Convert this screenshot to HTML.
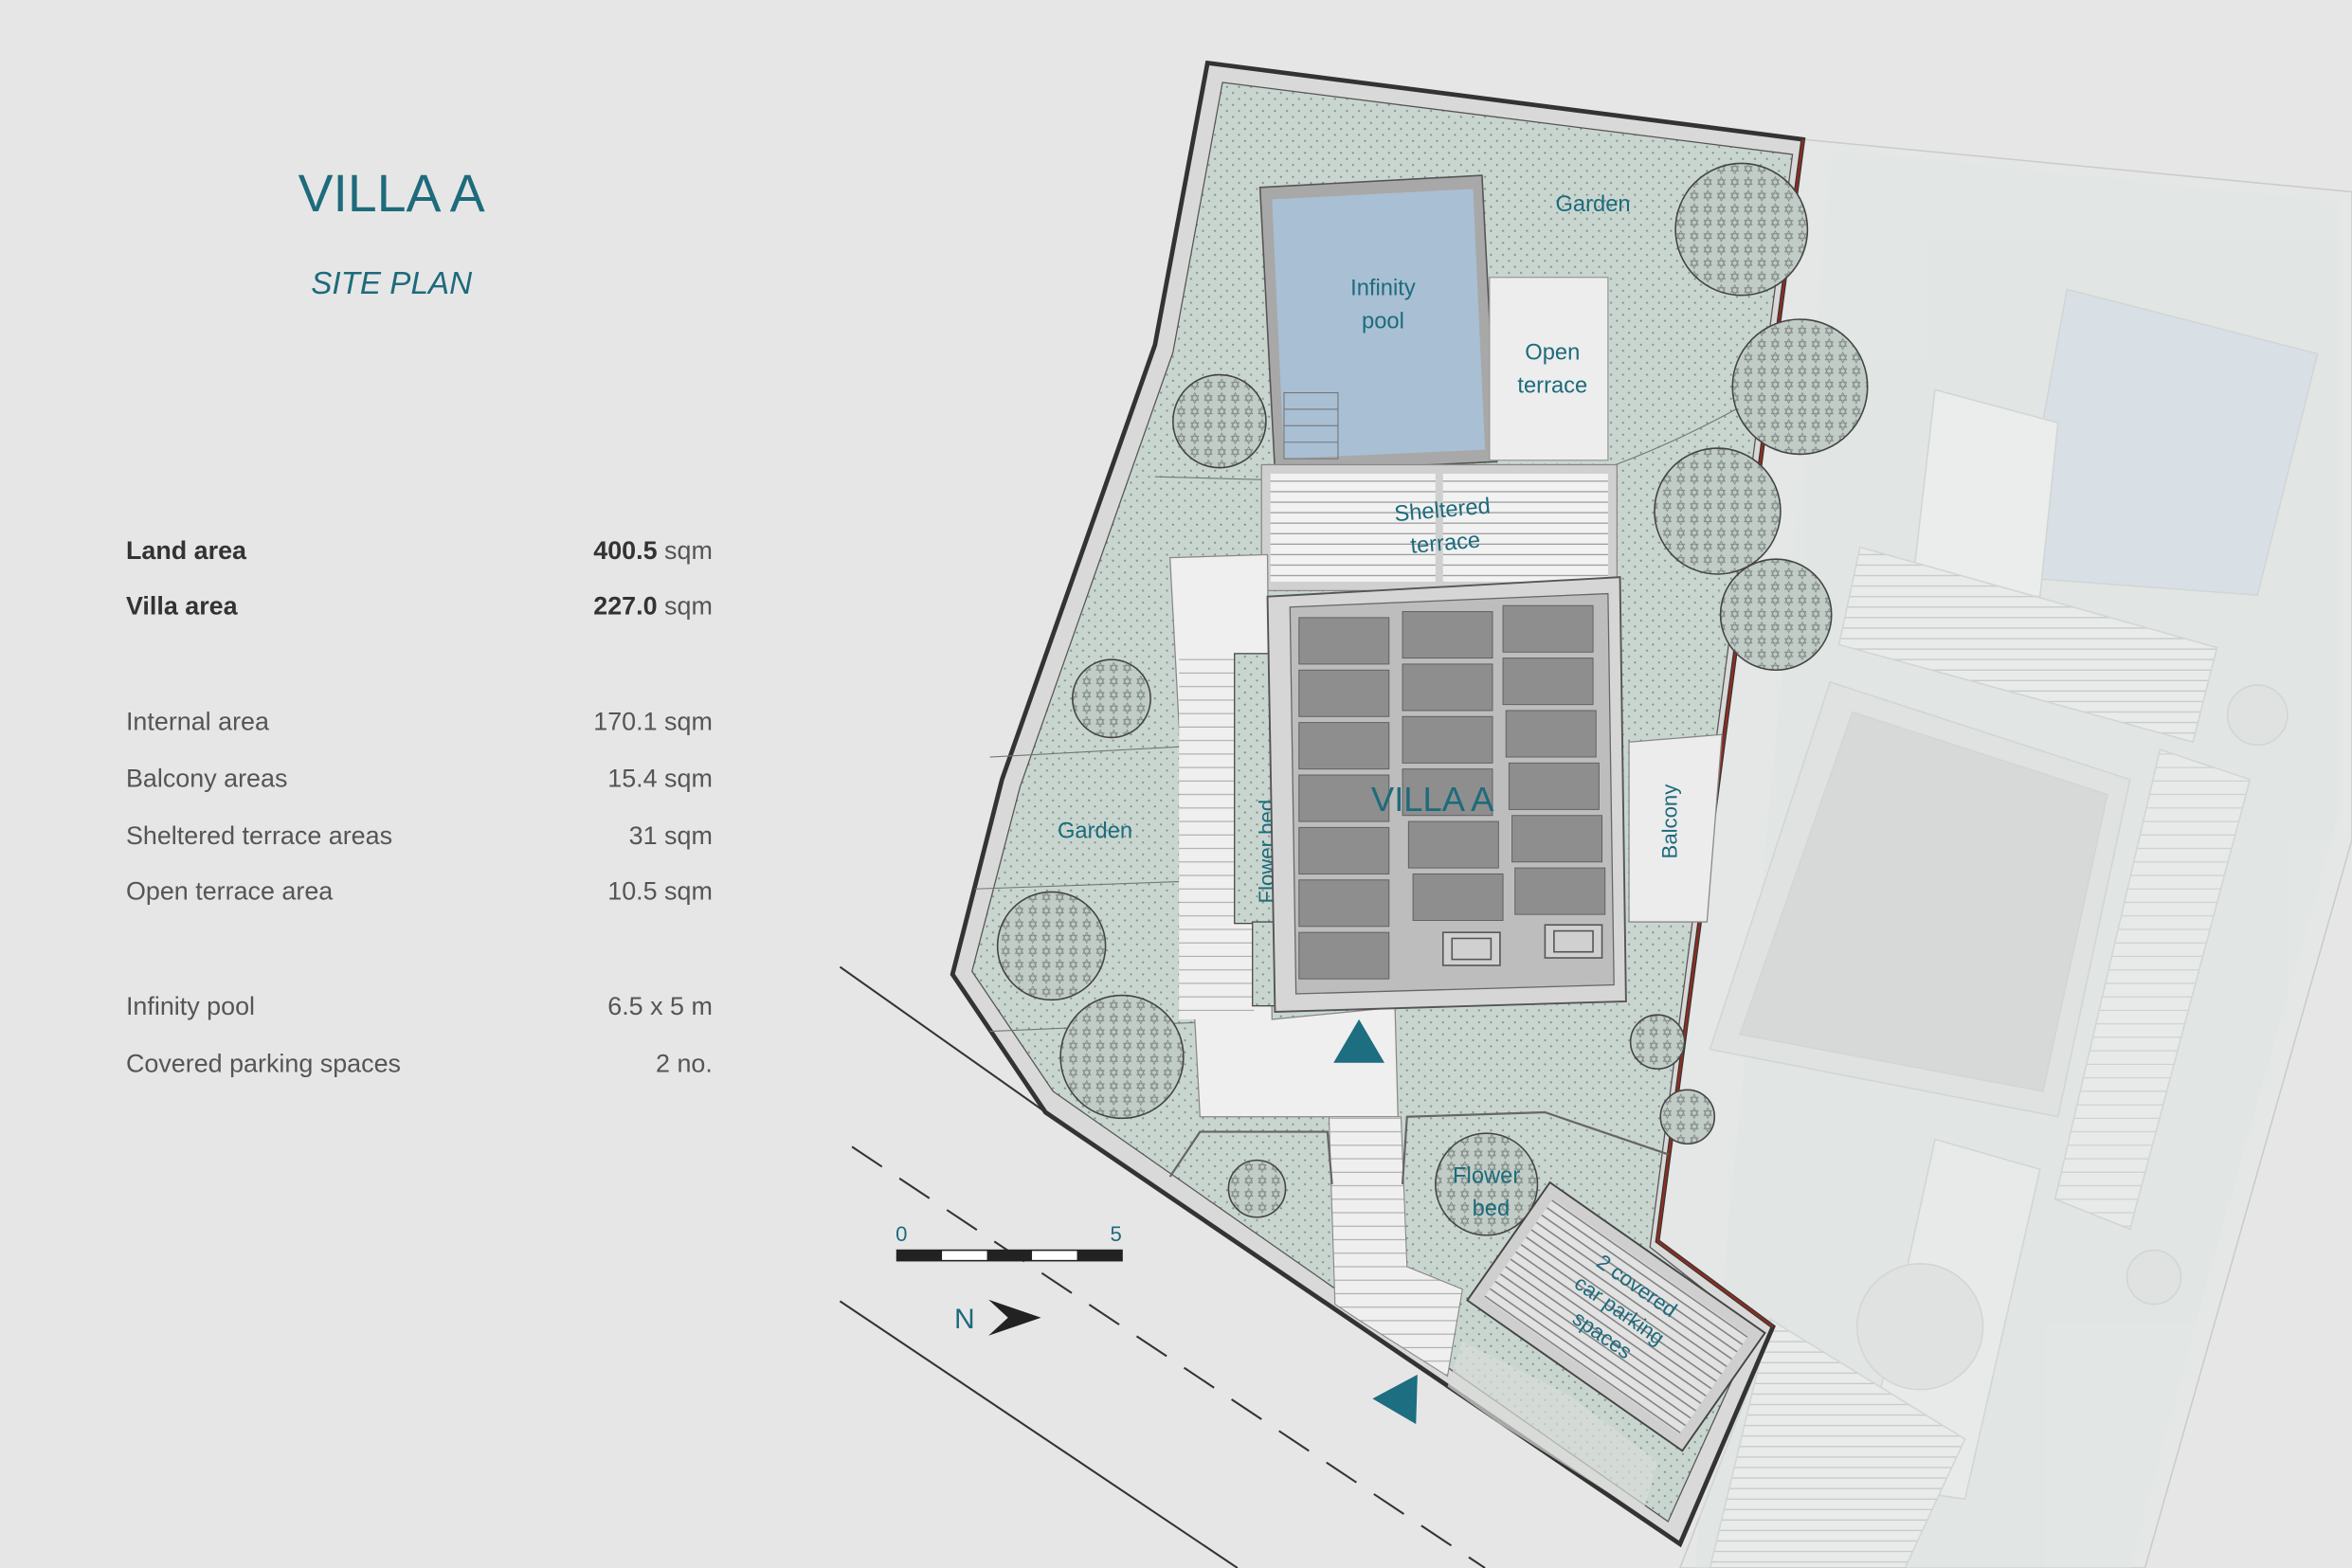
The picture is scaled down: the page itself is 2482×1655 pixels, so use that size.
<!DOCTYPE html>
<html><head><meta charset="utf-8"><style>
html,body{margin:0;padding:0;background:#e7e6e6;}
svg{display:block;}
text{font-family:"Liberation Sans",sans-serif;}
</style></head><body>
<svg width="2482" height="1655" viewBox="0 0 1568 1046" preserveAspectRatio="none" xmlns="http://www.w3.org/2000/svg">
<defs>
<pattern id="dots" width="8" height="8" patternUnits="userSpaceOnUse"><rect width="8" height="8" fill="#c9d6d0"/><circle cx="2" cy="2" r="0.7" fill="#7f8f88"/><circle cx="6" cy="6" r="0.7" fill="#7f8f88"/></pattern>
<pattern id="tree" width="9" height="9" patternUnits="userSpaceOnUse"><rect width="9" height="9" fill="#c2ccc7"/><path d="M4.5 1 L7 6 L2 6 Z M4.5 8 L2 3 L7 3 Z" fill="none" stroke="#7b8580" stroke-width="0.5"/></pattern>
<pattern id="stripes" width="10" height="7" patternUnits="userSpaceOnUse"><rect width="10" height="7" fill="#f2f2f2"/><line x1="0" y1="6" x2="10" y2="6" stroke="#9a9a9a" stroke-width="0.8"/></pattern>
<pattern id="cstripes" width="6" height="6" patternUnits="userSpaceOnUse"><rect width="6" height="6" fill="#e2e2e2"/><line x1="0" y1="5" x2="6" y2="5" stroke="#777" stroke-width="0.9"/></pattern>
<pattern id="hstripes2" width="10" height="9" patternUnits="userSpaceOnUse"><rect width="10" height="9" fill="#efefef"/><line x1="0" y1="8" x2="10" y2="8" stroke="#aaa" stroke-width="0.7"/></pattern>
</defs>
<rect width="1568" height="1046" fill="#e7e6e6"/>

<text x="261" y="141" text-anchor="middle" font-size="35" fill="#1d6b7c">VILLA A</text>
<text x="261" y="196" text-anchor="middle" font-size="21" font-style="italic" fill="#1d6b7c">SITE PLAN</text>
<g font-size="17" fill="#555">
<text x="84" y="373" fill="#333" font-weight="bold">Land area</text>
<text x="475" y="373" text-anchor="end"><tspan fill="#333" font-weight="bold">400.5</tspan> sqm</text>
<text x="84" y="410" fill="#333" font-weight="bold">Villa area</text>
<text x="475" y="410" text-anchor="end"><tspan fill="#333" font-weight="bold">227.0</tspan> sqm</text>
<text x="84" y="487">Internal area</text><text x="475" y="487" text-anchor="end">170.1 sqm</text>
<text x="84" y="525">Balcony areas</text><text x="475" y="525" text-anchor="end">15.4 sqm</text>
<text x="84" y="563">Sheltered terrace areas</text><text x="475" y="563" text-anchor="end">31 sqm</text>
<text x="84" y="600">Open terrace area</text><text x="475" y="600" text-anchor="end">10.5 sqm</text>
<text x="84" y="677">Infinity pool</text><text x="475" y="677" text-anchor="end">6.5 x 5 m</text>
<text x="84" y="715">Covered parking spaces</text><text x="475" y="715" text-anchor="end">2 no.</text>
</g>

<line x1="560" y1="645" x2="700" y2="744" stroke="#333" stroke-width="1.3"/>
<line x1="568" y1="765" x2="990" y2="1046" stroke="#333" stroke-width="1.3" stroke-dasharray="24,14"/>
<line x1="560" y1="868" x2="825" y2="1046" stroke="#333" stroke-width="1.3"/>

<polygon points="1202,93 1568,128 1568,560 1480,870 1430,1046 1120,1046 1182,885 1105,828" fill="#e4e7e6" stroke="#c9cccc" stroke-width="1"/>
<g opacity="0.4" stroke="#b8bcbc" stroke-width="1" fill="#ececec">
<polygon points="1222,100 1560,135 1560,540 1470,860 1420,1046 1130,1046" fill="#dfe5e2" stroke="none"/>
<polygon points="1378,193 1545,236 1505,397 1343,385" fill="#c8d8e6"/>
<polygon points="1290,260 1372,282 1360,398 1275,390" fill="#f7f7f7"/>
<polygon points="1240,365 1478,432 1462,495 1226,430" fill="url(#stripes)"/>
<polygon points="1220,455 1420,520 1372,745 1140,700" fill="#dcdcdc"/>
<polygon points="1235,475 1405,530 1362,728 1160,690" fill="#c6c6c6"/>
<polygon points="1440,500 1500,520 1420,820 1370,800" fill="url(#hstripes2)"/>
<polygon points="1290,760 1360,780 1310,1000 1240,990" fill="#f0f0f0"/>
<polygon points="1180,880 1310,960 1270,1046 1140,1046" fill="url(#stripes)"/>
<circle cx="1280" cy="885" r="42" fill="#d8dcda"/>
<circle cx="1505" cy="477" r="20" fill="#d8dcda"/>
<circle cx="1436" cy="852" r="18" fill="#d8dcda"/>
</g>

<polygon points="805,42 1202,93 1105,828 1182,885 1120,1030 697,742 635,650 668,520 770,230" fill="#d9d9d9" stroke="#333" stroke-width="3"/>
<polygon points="815,55 1195,103 1100,832 1170,887 1112,1015 702,728 648,648 680,525 782,235" fill="url(#dots)" stroke="#555" stroke-width="0.8"/>
<line x1="1202" y1="93" x2="1105" y2="828" stroke="#8b2e20" stroke-width="1.6"/>
<line x1="1105" y1="828" x2="1182" y2="885" stroke="#8b2e20" stroke-width="1.6"/>

<g stroke="#6d7a75" stroke-width="0.7" fill="none">
<line x1="660" y1="505" x2="790" y2="498"/><line x1="650" y1="593" x2="790" y2="588"/>
<line x1="660" y1="688" x2="800" y2="682"/><line x1="770" y1="318" x2="842" y2="320"/>
<path d="M1077 310 Q1130 290 1180 260"/>
</g>

<g stroke="#444" stroke-width="1" fill="url(#tree)">
<circle cx="813" cy="281" r="31"/><circle cx="741" cy="466" r="26"/><circle cx="701" cy="631" r="36"/><circle cx="748" cy="705" r="41"/>
<circle cx="1161" cy="153" r="44"/><circle cx="1200" cy="258" r="45"/><circle cx="1145" cy="341" r="42"/><circle cx="1184" cy="410" r="37"/>
<circle cx="1105" cy="695" r="18"/><circle cx="1125" cy="745" r="18"/><circle cx="838" cy="793" r="19"/><circle cx="991" cy="790" r="34"/>
</g>

<polygon points="840,125 988,117 998,308 850,315" fill="#a8a8a8" stroke="#555" stroke-width="1"/>
<polygon points="848,133 982,126 990,300 856,306" fill="#a9bfd3"/>
<g stroke="#777" stroke-width="0.7" fill="none"><rect x="856" y="262" width="36" height="44"/><line x1="856" y1="273" x2="892" y2="273"/><line x1="856" y1="284" x2="892" y2="284"/><line x1="856" y1="295" x2="892" y2="295"/></g>
<text x="922" y="197" text-anchor="middle" font-size="15" fill="#1d6b7c">Infinity</text>
<text x="922" y="219" text-anchor="middle" font-size="15" fill="#1d6b7c">pool</text>
<rect x="993" y="185" width="79" height="122" fill="#ededed" stroke="#999" stroke-width="0.8"/>
<text x="1035" y="240" text-anchor="middle" font-size="15" fill="#1d6b7c">Open</text>
<text x="1035" y="262" text-anchor="middle" font-size="15" fill="#1d6b7c">terrace</text>
<rect x="841" y="310" width="237" height="84" fill="#d0d0d0" stroke="#888" stroke-width="0.8"/>
<rect x="847" y="316" width="110" height="72" fill="url(#stripes)"/>
<rect x="962" y="316" width="110" height="72" fill="url(#stripes)"/>
<text x="962" y="345" text-anchor="middle" font-size="15" fill="#1d6b7c" transform="rotate(-5 962 345)">Sheltered</text>
<text x="964" y="367" text-anchor="middle" font-size="15" fill="#1d6b7c" transform="rotate(-5 964 367)">terrace</text>

<polygon points="780,372 845,370 848,680 930,672 932,745 800,745" fill="#efefef" stroke="#888" stroke-width="0.8"/>
<rect x="786" y="435" width="50" height="245" fill="url(#hstripes2)"/>
<rect x="823" y="436" width="30" height="180" fill="url(#dots)" stroke="#444" stroke-width="0.8"/>
<rect x="835" y="615" width="25" height="56" fill="url(#dots)" stroke="#444" stroke-width="0.8"/>
<text x="849" y="568" text-anchor="middle" font-size="14" fill="#1d6b7c" transform="rotate(-90 849 568)">Flower bed</text>
<polygon points="886,745 934,745 938,845 975,860 965,918 905,880 890,870" fill="url(#hstripes2)" stroke="#888" stroke-width="0.7"/>
<g fill="none" stroke="#666" stroke-width="1.4"><path d="M780 785 L800 755 L885 755 L888 790"/><path d="M935 790 L938 745 L1030 742 L1112 770"/></g>

<polygon points="845,398 1080,385 1084,668 850,675" fill="#d6d6d6" stroke="#555" stroke-width="1.2"/>
<polygon points="860,405 1072,396 1076,657 864,663" fill="#bdbdbd" stroke="#666" stroke-width="0.8"/>
<g fill="#8e8e8e" stroke="#5e5e5e" stroke-width="0.6">
<rect x="866" y="412" width="60" height="31"/><rect x="866" y="447" width="60" height="31"/><rect x="866" y="482" width="60" height="31"/><rect x="866" y="517" width="60" height="31"/><rect x="866" y="552" width="60" height="31"/><rect x="866" y="587" width="60" height="31"/><rect x="866" y="622" width="60" height="31"/>
<rect x="935" y="408" width="60" height="31"/><rect x="935" y="443" width="60" height="31"/><rect x="935" y="478" width="60" height="31"/><rect x="935" y="513" width="60" height="31"/><rect x="939" y="548" width="60" height="31"/><rect x="942" y="583" width="60" height="31"/>
<rect x="1002" y="404" width="60" height="31"/><rect x="1002" y="439" width="60" height="31"/><rect x="1004" y="474" width="60" height="31"/><rect x="1006" y="509" width="60" height="31"/><rect x="1008" y="544" width="60" height="31"/><rect x="1010" y="579" width="60" height="31"/>
</g>
<rect x="962" y="622" width="38" height="22" fill="#d0d0d0" stroke="#555"/><rect x="1030" y="617" width="38" height="22" fill="#d0d0d0" stroke="#555"/>
<rect x="968" y="626" width="26" height="14" fill="none" stroke="#555"/><rect x="1036" y="621" width="26" height="14" fill="none" stroke="#555"/>
<text x="955" y="541" text-anchor="middle" font-size="23" fill="#1d6b7c">VILLA A</text>
<polygon points="1086,495 1148,490 1138,615 1086,615" fill="#ececec" stroke="#888" stroke-width="0.8"/>
<text x="1118" y="548" text-anchor="middle" font-size="14" fill="#1d6b7c" transform="rotate(-90 1118 548)">Balcony</text>

<g transform="rotate(35 1077 878)">
<rect x="990" y="830" width="175" height="96" fill="#cfcfcf" stroke="#444" stroke-width="1.2"/>
<rect x="998" y="838" width="159" height="80" fill="url(#cstripes)"/>
<text x="1077" y="858" text-anchor="middle" font-size="14" fill="#1d6b7c">2 covered</text>
<text x="1077" y="878" text-anchor="middle" font-size="14" fill="#1d6b7c">car parking</text>
<text x="1077" y="898" text-anchor="middle" font-size="14" fill="#1d6b7c">spaces</text>
</g>
<polygon points="975,895 1045,930 1105,975 1095,1010 1000,950 965,925" fill="#d8dcd9" opacity="0.7"/>

<text x="1062" y="141" text-anchor="middle" font-size="15" fill="#1d6b7c">Garden</text>
<text x="730" y="559" text-anchor="middle" font-size="15" fill="#1d6b7c">Garden</text>
<text x="991" y="789" text-anchor="middle" font-size="15" fill="#1d6b7c">Flower</text>
<text x="994" y="811" text-anchor="middle" font-size="15" fill="#1d6b7c">bed</text>

<polygon points="906,680 889,709 923,709" fill="#1c6e80"/>
<polygon points="915,933 945,917 944,950" fill="#1c6e80"/>

<rect x="598" y="834" width="150" height="7" fill="#fff" stroke="#222" stroke-width="1"/>
<rect x="598" y="834" width="30" height="7" fill="#222"/><rect x="658" y="834" width="30" height="7" fill="#222"/><rect x="718" y="834" width="30" height="7" fill="#222"/>
<text x="601" y="828" text-anchor="middle" font-size="14" fill="#1d6b7c">0</text>
<text x="744" y="828" text-anchor="middle" font-size="14" fill="#1d6b7c">5</text>
<text x="643" y="886" text-anchor="middle" font-size="19" fill="#1d6b7c">N</text>
<polygon points="659,867 694,879 659,891 672,879" fill="#222"/>
</svg>
</body></html>
